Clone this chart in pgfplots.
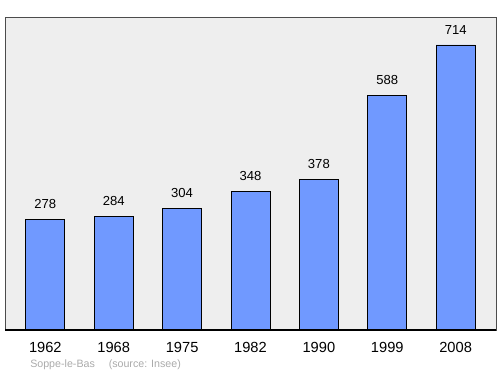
\documentclass[border=0pt]{standalone}
\usepackage{pgfplots}
\pgfplotsset{compat=1.18}
\usepackage{fontspec}
\setmainfont{Liberation Sans}
\definecolor{bg}{HTML}{EEEEEE}
\definecolor{barc}{HTML}{7099FF}
\definecolor{src}{HTML}{AAAAAA}
\begin{document}
\begin{tikzpicture}
\path (0pt,0pt) rectangle (375pt,280.5pt);
\begin{axis}[
  at={(3.75pt,33pt)}, anchor=south west,
  scale only axis, width=368.25pt, height=234.75pt,
  xmin=-0.59, xmax=6.59, ymin=0, ymax=784,
  axis background/.style={fill=bg},
  axis line style={draw=black!70, line width=0.6pt},
  ytick=\empty,
  xtick={0,1,2,3,4,5,6},
  xticklabels={1962,1968,1975,1982,1990,1999,2008},
  major tick length=0pt,
  xticklabel style={font=\fontsize{11}{12}\selectfont, yshift=-5.5pt},
  ybar, bar width=0.57,
  nodes near coords,
  every node near coord/.append style={font=\fontsize{9.8}{11}\selectfont, yshift=4.5pt},
  /pgf/number format/assume math mode=true,
  clip=false,
]
\addplot[fill=barc, draw=black, line width=0.6pt] coordinates {(0,278) (1,284) (2,304) (3,348) (4,378) (5,588) (6,714)};
\draw[black, line width=1.5pt] (axis cs:-0.59,0) -- (axis cs:6.59,0);
\end{axis}
\node[anchor=west, inner sep=0pt, text=src, font=\fontsize{8}{9}\selectfont] at (22.5pt,7pt) {Soppe-le-Bas\hspace{1.3em}(source: Insee)};
\end{tikzpicture}
\end{document}
